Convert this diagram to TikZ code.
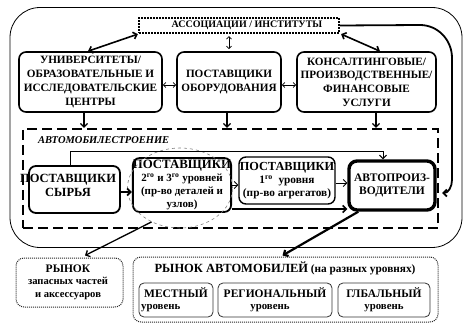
\documentclass[tikz,border=0pt]{standalone}
\usepackage{fontspec}
\setmainfont{Liberation Serif}
\usetikzlibrary{arrows.meta,shapes.geometric,calc}
\begin{document}
\begin{tikzpicture}[x=1pt,y=-1pt,
  bx/.style={draw,line width=1.6pt,rounded corners=7pt,inner sep=0pt},
  tx/.style={align=center,inner sep=0pt,font=\bfseries\fontsize{11.2}{13.7}\selectfont},
  sub/.style={draw=black!80,line width=0.8pt,rounded corners=5pt,inner sep=0pt},
  mkt/.style={draw=black!85,line width=1pt,dash pattern=on 1pt off 1pt,rounded corners=8pt,inner sep=0pt},
  barb/.tip={Straight Barb[length=3.5pt,width=7pt]},
  arr/.style={-barb,line width=1.3pt},
  darr/.style={barb-barb,line width=1.6pt},
  sdarr/.style={{Straight Barb[length=2.5pt,width=5pt]}-{Straight Barb[length=2.5pt,width=5pt]},line width=0.8pt}]
\useasboundingbox (0,0) rectangle (464,329);
% outer frame
\node[draw,line width=0.8pt,rounded corners=30pt,minimum width=452pt,minimum height=240pt,inner sep=0pt] (outer) at (236,127.5) {};
% association
\node[draw,line width=2.2pt,dash pattern=on 1.6pt off 1.4pt,minimum width=200pt,minimum height=15pt,inner sep=0pt] (assoc) at (239,25.5) {};
\node[inner sep=0pt,font=\bfseries\fontsize{10}{12}\selectfont] (assoct) at (247,25.5) {АССОЦИАЦИИ / ИНСТИТУТЫ};
% top boxes
\node[bx,minimum width=143pt,minimum height=60pt,tx] (univ) at (90.5,82) {УНИВЕРСИТЕТЫ/\\ОБРАЗОВАТЕЛЬНЫЕ И\\ИССЛЕДОВАТЕЛЬСКИЕ\\ЦЕНТРЫ};
\node[bx,minimum width=104pt,minimum height=60pt,tx] (equip) at (229,82) {ПОСТАВЩИКИ\\ОБОРУДОВАНИЯ};
\node[bx,minimum width=139pt,minimum height=60pt,tx] (cons) at (366.5,82) {КОНСАЛТИНГОВЫЕ/\\ПРОИЗВОДСТВЕННЫЕ/\\ФИНАНСОВЫЕ\\УСЛУГИ};
% links among top
\draw[darr] (assoc.south west) -- ([xshift=-2.5pt]univ.north);
\draw[darr] ([xshift=1pt]assoc.south east) -- ([xshift=13.5pt]cons.north);
\draw[sdarr] ([yshift=-2pt]assoc.south -| equip.north) -- ([yshift=2pt]equip.north);
\draw[sdarr] ([yshift=-3pt]univ.east) -- ([yshift=-3pt]univ.east -| equip.west);
\draw[sdarr] ([yshift=-3pt]equip.east) -- ([yshift=-3pt]equip.east -| cons.west);
% automotive dashed box
\node[draw,line width=2.2pt,dash pattern=on 10pt off 5pt,minimum width=415pt,minimum height=99pt,inner sep=0pt] (auto) at (230.5,178.5) {};
\node[anchor=west,inner sep=0pt,font=\bfseries\itshape\fontsize{10.5}{12}\selectfont] (autot) at (38,140) {АВТОМОБИЛЕСТРОЕНИЕ};
\draw[arr] ([xshift=-6.5pt]univ.south) -- ([xshift=-6.5pt]univ.south |- auto.north);
\draw[arr] ([xshift=-2pt]equip.south) -- ([xshift=-2pt]equip.south |- auto.north);
\draw[arr] ([xshift=9.5pt]cons.south) -- ([xshift=9.5pt]cons.south |- auto.north);
% inner boxes
\node[bx,line width=1.8pt,minimum width=91pt,minimum height=47pt] (raw) at (74.5,189.5) {};
\node[tx,font=\bfseries\fontsize{12.5}{14}\selectfont] (rawt) at (68,185) {ПОСТАВЩИКИ\\СЫРЬЯ};
\node[bx,line width=1.8pt,minimum width=90pt,minimum height=54pt,tx,font=\bfseries\fontsize{11}{13}\selectfont] (t2) at (182,185) {{\fontsize{12.8}{13}\selectfont ПОСТАВЩИКИ}\\2\textsuperscript{го} и 3\textsuperscript{го} уровней\\(пр-во деталей и\\узлов)};
\node[draw,dashed,gray,line width=0.6pt,ellipse,minimum width=105pt,minimum height=80pt,inner sep=0pt] (ell) at (180,188) {};
\node[bx,line width=1.4pt,minimum width=96pt,minimum height=47pt,tx,font=\bfseries\fontsize{11.3}{13}\selectfont] (t1) at (287,180.5) {{\fontsize{12.3}{13}\selectfont ПОСТАВЩИКИ}\\1\textsuperscript{го}\ \ уровня\\(пр-во агрегатов)};
\node[draw,line width=3.4pt,rounded corners=8pt,minimum width=86pt,minimum height=49pt,inner sep=0pt,tx,font=\bfseries\fontsize{11.5}{13}\selectfont] (oem) at (392,185.5) {АВТОПРОИЗ-\\ВОДИТЕЛИ};
% inner connectors
\draw[arr,line width=1pt] ([xshift=-4.5pt]raw.north) -- ++(0,-14) -| ([xshift=-9pt]oem.north);
\draw[arr,line width=1.8pt] ([yshift=-2.5pt]raw.east) -- ([yshift=-2.5pt]raw.east -| t2.west);
\draw[arr,line width=0.9pt] (t2.east) -- (t2.east -| t1.west);
\draw[arr,line width=0.9pt] ([yshift=-2.5pt]t1.east) -- ([yshift=-2.5pt]t1.east -| oem.west);
\draw[arr,line width=1.6pt] ([yshift=-24pt]t2.east) -- ([yshift=-24pt]t2.east -| oem.west);
% big arrow from association
\draw[arr,line width=1.8pt] (assoc.east) -- (420,25) to[out=0,in=90] (452,58) -- (452,180) to[out=-90,in=0] ($(auto.east)+(3,14.5)$);
% markets
\node[mkt,minimum width=107pt,minimum height=49pt] (spare) at (69.5,282.5) {};
\node[tx,font=\bfseries\fontsize{10.6}{12.5}\selectfont] (sparet) at (68,282) {{\fontsize{11.5}{12}\selectfont РЫНОК}\\запасных частей\\и аксессуаров};
\node[mkt,minimum width=305pt,minimum height=65pt] (car) at (285.5,289.5) {};
\node[inner sep=0pt,font=\bfseries\fontsize{11.3}{12}\selectfont] (cart) at (285,268) {{\fontsize{12.5}{12}\selectfont РЫНОК АВТОМОБИЛЕЙ} (на разных уровнях)};
\node[sub,minimum width=74pt,minimum height=34pt] (loc) at (176,300) {};
\node[inner sep=0pt,font=\bfseries\fontsize{11.5}{12}\selectfont] (loct) at (176,293) {МЕСТНЫЙ};
\node[anchor=west,inner sep=0pt,font=\bfseries\fontsize{10.8}{12}\selectfont] (locl) at (141,308) {уровень};
\node[sub,minimum width=114pt,minimum height=34pt] (reg) at (275,300) {};
\node[inner sep=0pt,font=\bfseries\fontsize{11.5}{12}\selectfont] (regt) at (275,293) {РЕГИОНАЛЬНЫЙ};
\node[inner sep=0pt,font=\bfseries\fontsize{10.8}{12}\selectfont] (regl) at (270,308) {уровень};
\node[sub,minimum width=92pt,minimum height=34pt] (glob) at (384,300) {};
\node[inner sep=0pt,font=\bfseries\fontsize{11.5}{12}\selectfont] (globt) at (384,293) {ГЛБАЛЬНЫЙ};
\node[inner sep=0pt,font=\bfseries\fontsize{10.8}{12}\selectfont] (globl) at (384,308) {уровень};
% to markets
\draw[arr,line width=1.3pt] (ell.230) -- ([xshift=15.5pt,yshift=2pt]spare.north);
\draw[arr,line width=2.2pt] ([xshift=11pt]oem.south west) -- ([xshift=-3pt,yshift=1pt]car.north);
\end{tikzpicture}
\end{document}
